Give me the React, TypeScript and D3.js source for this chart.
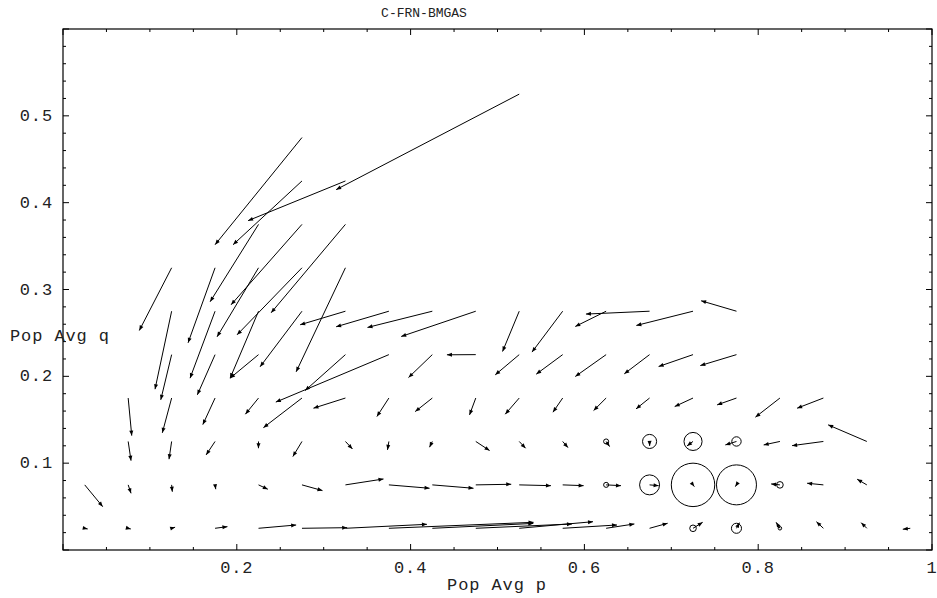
import * as d3 from 'd3';
import React from 'react';

// each entry: [start p, end p, end q]; start q is the row value
const row025 = [
  [0.025, 0.0284, 0.0242], [0.075, 0.078, 0.0242], [0.125, 0.129, 0.0262], [0.175, 0.1892, 0.0269],
  [0.225, 0.2683, 0.0288], [0.275, 0.327, 0.0257], [0.325, 0.4188, 0.0296], [0.375, 0.5415, 0.0319],
  [0.425, 0.5412, 0.0306], [0.475, 0.5857, 0.03], [0.525, 0.6099, 0.0326], [0.575, 0.6375, 0.0288],
  [0.625, 0.6575, 0.03], [0.675, 0.6958, 0.0308], [0.725, 0.7361, 0.0319], [0.775, 0.7784, 0.0315],
  [0.825, 0.8206, 0.0319], [0.875, 0.867, 0.0326], [0.925, 0.9185, 0.0315], [0.975, 0.9664, 0.0239],
];
const row075 = [
  [0.025, 0.0457, 0.0499], [0.075, 0.0783, 0.0653], [0.125, 0.1258, 0.0671], [0.175, 0.1758, 0.07],
  [0.225, 0.2357, 0.07], [0.275, 0.2986, 0.0684], [0.325, 0.3688, 0.0818], [0.375, 0.4218, 0.0711],
  [0.425, 0.4724, 0.0711], [0.475, 0.5158, 0.0757], [0.525, 0.5615, 0.0741], [0.575, 0.5991, 0.0741],
  [0.625, 0.6421, 0.0741], [0.675, 0.6854, 0.0741], [0.725, 0.7265, 0.073], [0.775, 0.7737, 0.073],
  [0.825, 0.8149, 0.0761], [0.875, 0.8563, 0.0769], [0.925, 0.9139, 0.0815],
];
const row125 = [
  [0.075, 0.0783, 0.1029], [0.125, 0.122, 0.1046], [0.175, 0.1647, 0.1095], [0.225, 0.2249, 0.1172],
  [0.275, 0.2645, 0.1076], [0.325, 0.3331, 0.1164], [0.375, 0.3734, 0.1153], [0.425, 0.4218, 0.1184],
  [0.475, 0.4909, 0.1145], [0.525, 0.5323, 0.1172], [0.575, 0.5811, 0.1179], [0.625, 0.629, 0.1191],
  [0.675, 0.6751, 0.1199], [0.725, 0.7181, 0.1199], [0.775, 0.7622, 0.121], [0.825, 0.8063, 0.121],
  [0.875, 0.839, 0.1202], [0.925, 0.8805, 0.1441],
];
const row175 = [
  [0.075, 0.0791, 0.1317], [0.125, 0.1143, 0.1349], [0.175, 0.1609, 0.1444], [0.225, 0.2099, 0.1564],
  [0.275, 0.2306, 0.1409], [0.325, 0.2882, 0.1633], [0.375, 0.3612, 0.1537], [0.425, 0.4053, 0.1594],
  [0.475, 0.4678, 0.1556], [0.525, 0.5089, 0.1564], [0.575, 0.5638, 0.1587], [0.625, 0.6106, 0.1606],
  [0.675, 0.6594, 0.1625], [0.725, 0.7039, 0.1652], [0.775, 0.7527, 0.1671], [0.825, 0.7968, 0.153],
  [0.875, 0.8448, 0.1633],
];
const row225 = [
  [0.125, 0.1125, 0.1729], [0.175, 0.1546, 0.1787], [0.225, 0.1923, 0.1979], [0.325, 0.2786, 0.1836],
  [0.375, 0.2449, 0.1703], [0.425, 0.3976, 0.1986], [0.475, 0.4418, 0.2248], [0.525, 0.4974, 0.2017],
  [0.575, 0.5446, 0.2025], [0.625, 0.5895, 0.1998], [0.675, 0.6459, 0.2029], [0.725, 0.6854, 0.2113],
  [0.775, 0.7334, 0.2124],
];
const row275 = [
  [0.125, 0.1059, 0.1852], [0.175, 0.1462, 0.1979], [0.225, 0.1923, 0.1979], [0.275, 0.2268, 0.211],
  [0.325, 0.2729, 0.2594], [0.375, 0.3143, 0.2571], [0.425, 0.3504, 0.2563], [0.475, 0.3892, 0.2459],
  [0.525, 0.5058, 0.2286], [0.575, 0.5397, 0.2279], [0.625, 0.5895, 0.2574], [0.675, 0.6018, 0.2717],
  [0.725, 0.6598, 0.2586], [0.775, 0.7343, 0.287],
];
const row325 = [
  [0.125, 0.0878, 0.2528], [0.175, 0.1439, 0.2386], [0.225, 0.1773, 0.2455], [0.275, 0.2003, 0.2478],
  [0.325, 0.2683, 0.2052],
];
const row375 = [[0.225, 0.1693, 0.2859], [0.275, 0.1934, 0.2824], [0.325, 0.2395, 0.2732]];
const row425 = [[0.275, 0.1957, 0.3516], [0.325, 0.213, 0.3793]];
const row475 = [[0.275, 0.175, 0.3516]];
const row525 = [[0.525, 0.3143, 0.415]];

const rowQ = [0.025, 0.075, 0.125, 0.175, 0.225, 0.275, 0.325, 0.375, 0.425, 0.475, 0.525];
const rows = [row025, row075, row125, row175, row225, row275, row325, row375, row425, row475, row525];

// spread circles around start points (radius in p units)
const circleP = [0.725, 0.775, 0.825, 0.625, 0.675, 0.725, 0.775, 0.825, 0.625, 0.675, 0.725, 0.775];
const circleQ = [0.025, 0.025, 0.025, 0.075, 0.075, 0.075, 0.075, 0.075, 0.125, 0.125, 0.125, 0.125];
const circleR = [0.0038, 0.0058, 0.002, 0.0029, 0.0115, 0.025, 0.023, 0.0038, 0.0029, 0.0081, 0.0104, 0.0054];

const xTickLabels = [0.2, 0.4, 0.6, 0.8, 1];
const yTickLabels = [0.1, 0.2, 0.3, 0.4, 0.5];

const W = 937, H = 598;
const L = 63, R = 932, T = 29, B = 550;
const font = '"Liberation Mono", "DejaVu Sans Mono", monospace';

export default function App() {
  const x = d3.scaleLinear().domain([0, 1]).range([L, R]);
  const y = d3.scaleLinear().domain([0, 0.6]).range([B, T]);

  const arrows: { x0: number; y0: number; x1: number; y1: number }[] = [];
  rows.forEach((row, i) => {
    row.forEach(([p0, p1, q1]) => {
      arrows.push({ x0: x(p0), y0: y(rowQ[i]), x1: x(p1), y1: y(q1) });
    });
  });

  const xMinor = d3.range(0, 1.0001, 0.05);
  const yMinor = d3.range(0, 0.6001, 0.02);
  const isMajorX = (v: number) => Math.abs(v / 0.2 - Math.round(v / 0.2)) < 1e-6;
  const isMajorY = (v: number) => Math.abs(v / 0.1 - Math.round(v / 0.1)) < 1e-6;

  const head = (a: { x0: number; y0: number; x1: number; y1: number }) => {
    let dx = a.x1 - a.x0, dy = a.y1 - a.y0;
    let len = Math.hypot(dx, dy);
    if (len < 0.01) { dx = 0; dy = 1; len = 1; }
    const ux = dx / len, uy = dy / len;
    const hl = 5, hw = 2;
    const bx = a.x1 - ux * hl, by = a.y1 - uy * hl;
    return `M${a.x1},${a.y1}L${bx - uy * hw},${by + ux * hw}L${bx + uy * hw},${by - ux * hw}Z`;
  };

  return (
    <svg width={W} height={H} style={{ position: 'absolute', left: 0, top: 0, background: '#fff' }}>
      <rect x={L} y={T} width={R - L} height={B - T} fill="none" stroke="#000" strokeWidth={1.2} />
      {xMinor.map((v, i) => {
        const len = isMajorX(v) ? 6 : 3;
        return (
          <g key={'xt' + i} stroke="#000" strokeWidth={1}>
            <line x1={x(v)} x2={x(v)} y1={B} y2={B - len} />
            <line x1={x(v)} x2={x(v)} y1={T} y2={T + len} />
          </g>
        );
      })}
      {yMinor.map((v, i) => {
        const len = isMajorY(v) ? 6 : 3;
        return (
          <g key={'yt' + i} stroke="#000" strokeWidth={1}>
            <line x1={L} x2={L + len} y1={y(v)} y2={y(v)} />
            <line x1={R} x2={R - len} y1={y(v)} y2={y(v)} />
          </g>
        );
      })}
      {xTickLabels.map((v) => (
        <text key={'xl' + v} x={x(v)} y={573} textAnchor="middle" fontFamily={font} fontSize={17}
          letterSpacing={0.9} fill="#222">{String(v)}</text>
      ))}
      {yTickLabels.map((v) => (
        <text key={'yl' + v} x={53} y={y(v) + 5} textAnchor="end" fontFamily={font} fontSize={17}
          letterSpacing={0.9} fill="#222">{String(v)}</text>
      ))}
      <text x={424} y={17} textAnchor="middle" fontFamily={font} fontSize={13} fill="#222">C-FRN-BMGAS</text>
      <text x={497} y={590} textAnchor="middle" fontFamily={font} fontSize={17} letterSpacing={0.9} fill="#222">Pop Avg p</text>
      <text x={10} y={341} fontFamily={font} fontSize={17} letterSpacing={0.9} fill="#222">Pop Avg q</text>
      {circleP.map((p, i) => (
        <circle key={'c' + i} cx={x(p)} cy={y(circleQ[i])} r={x(circleR[i]) - x(0)}
          fill="none" stroke="#000" strokeWidth={1} />
      ))}
      {arrows.map((a, i) => (
        <g key={'a' + i}>
          <line x1={a.x0} y1={a.y0} x2={a.x1} y2={a.y1} stroke="#000" strokeWidth={1} />
          <path d={head(a)} fill="#000" />
        </g>
      ))}
    </svg>
  );
}
